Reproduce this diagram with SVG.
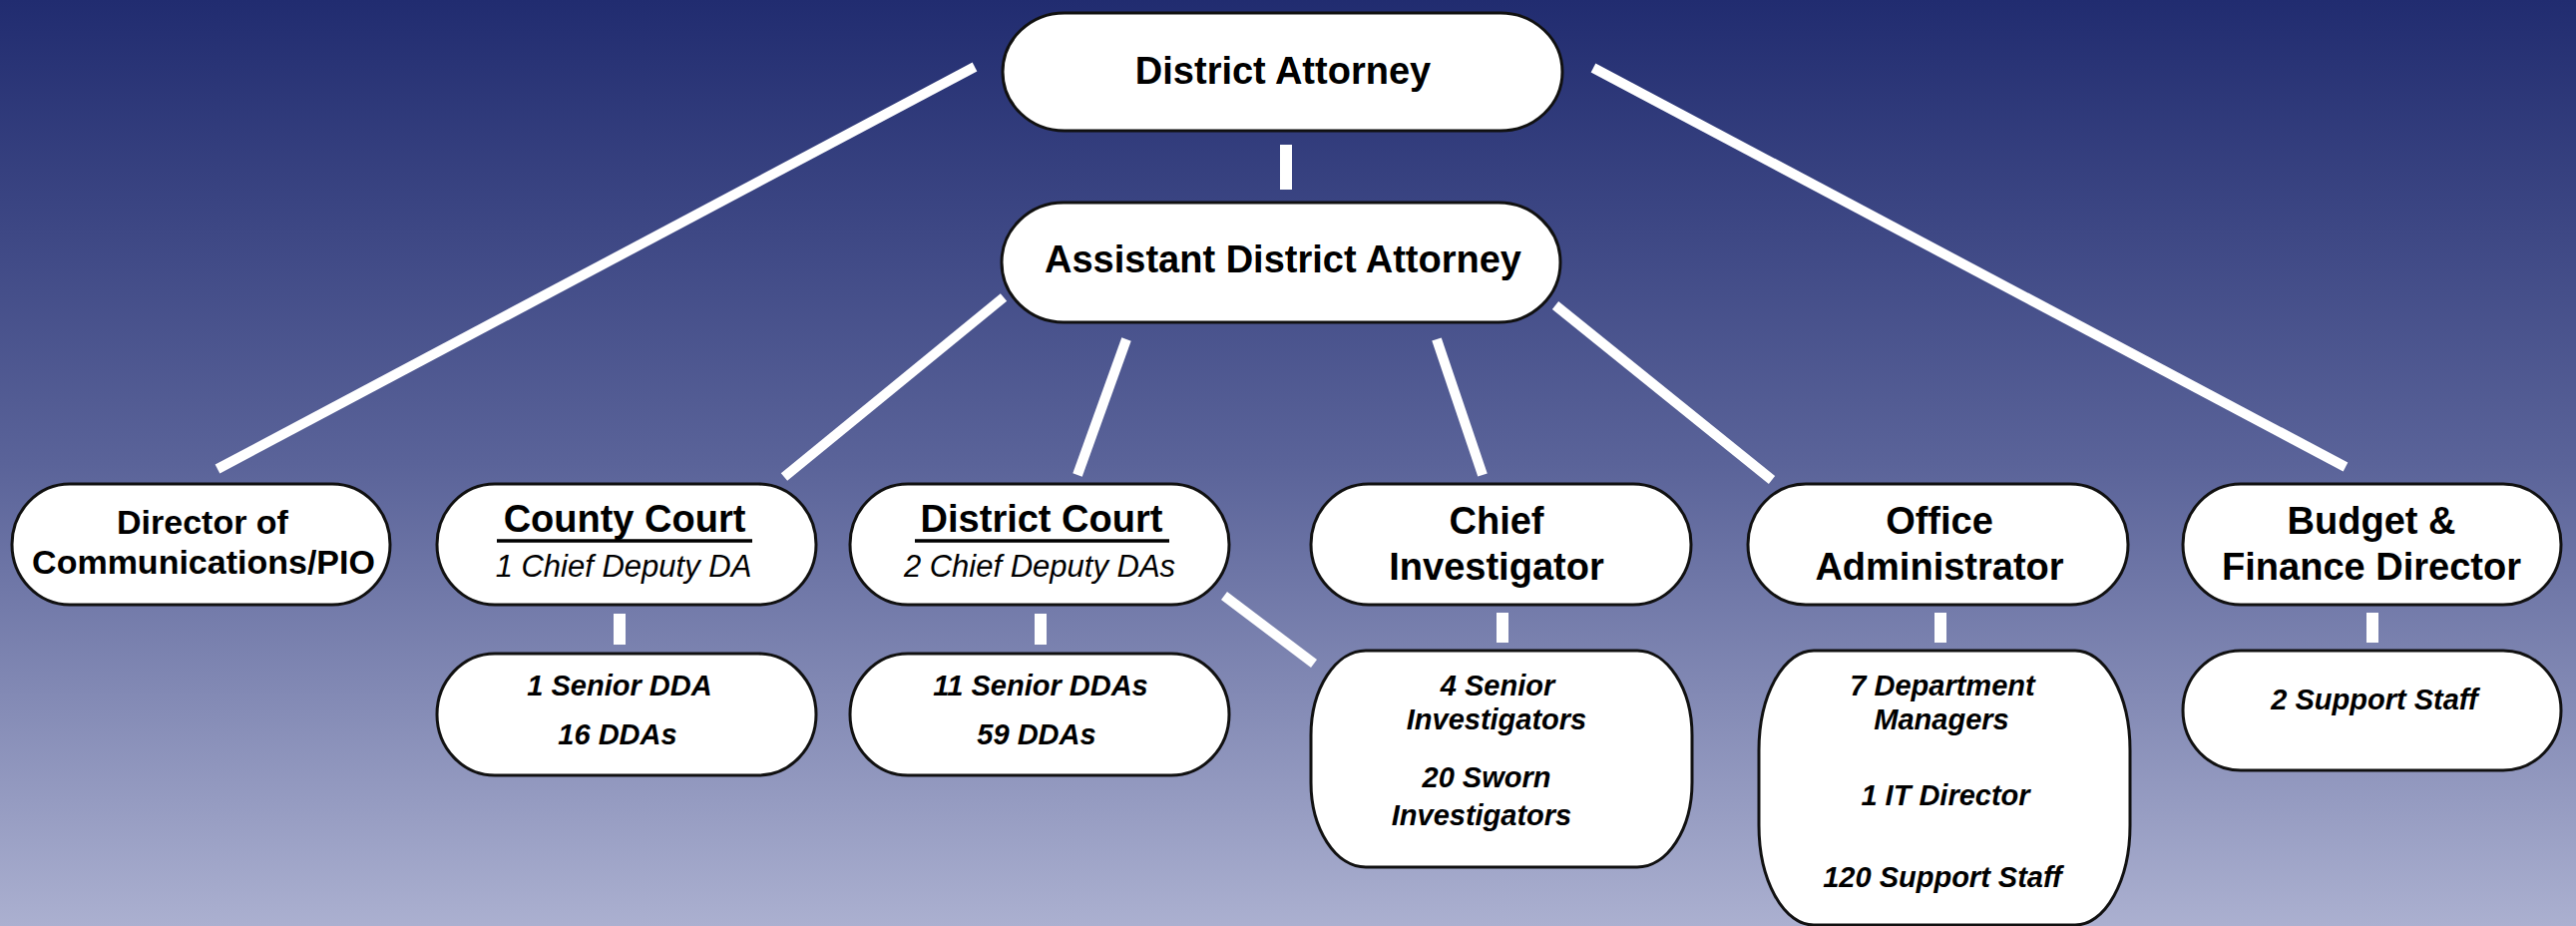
<svg xmlns="http://www.w3.org/2000/svg" width="2582" height="928" viewBox="0 0 2582 928">
  <defs>
    <linearGradient id="bg" x1="0" y1="0" x2="0" y2="1">
      <stop offset="0" stop-color="#212c70"/>
      <stop offset="0.5" stop-color="#5a6399"/>
      <stop offset="1" stop-color="#abb0d0"/>
    </linearGradient>
  </defs>
  <style>
    .box { fill: #ffffff; stroke: #111111; stroke-width: 3; }
    .ln { stroke: #ffffff; stroke-width: 10; stroke-linecap: butt; fill: none; }
    .vl { stroke: #ffffff; stroke-width: 12; stroke-linecap: butt; fill: none; }
    text { font-family: "Liberation Sans", Arial, sans-serif; fill: #000000; text-anchor: middle; }
    .t1 { font-size: 38px; font-weight: bold; }
    .t2 { font-size: 34px; font-weight: bold; }
    .it { font-size: 31px; font-style: italic; }
    .sub { font-size: 29px; font-weight: bold; font-style: italic; }
    .ul { stroke: #000000; stroke-width: 3.5; }
  </style>
  <rect x="0" y="0" width="2582" height="928" fill="url(#bg)"/>

  <g id="connectors">
    <line class="vl" x1="1289" y1="145" x2="1289" y2="190"/>
    <line class="ln" x1="977" y1="67" x2="218" y2="470"/>
    <line class="ln" x1="1597" y1="68" x2="2351" y2="468"/>
    <line class="ln" x1="1006" y1="298" x2="786" y2="478"/>
    <line class="ln" x1="1129" y1="340" x2="1080" y2="476"/>
    <line class="ln" x1="1440" y1="340" x2="1486" y2="476"/>
    <line class="ln" x1="1559" y1="306" x2="1776" y2="481"/>
    <line class="ln" x1="1227" y1="597" x2="1317" y2="665"/>
    <line class="vl" x1="621" y1="615" x2="621" y2="646"/>
    <line class="vl" x1="1043" y1="615" x2="1043" y2="646"/>
    <line class="vl" x1="1506" y1="614" x2="1506" y2="644"/>
    <line class="vl" x1="1945" y1="614" x2="1945" y2="644"/>
    <line class="vl" x1="2378" y1="614" x2="2378" y2="644"/>
  </g>

  <g id="district-attorney">
    <rect class="box" x="1005" y="13" width="561" height="118" rx="62" ry="59"/>
    <text class="t1" x="1286" y="84">District Attorney</text>
  </g>

  <g id="assistant-district-attorney">
    <rect class="box" x="1004" y="203" width="560" height="120" rx="62" ry="60"/>
    <text class="t1" x="1286" y="273">Assistant District Attorney</text>
  </g>

  <g id="director-communications">
    <rect class="box" x="12" y="485" width="379" height="121" rx="58" ry="60.5"/>
    <text class="t2" x="203" y="535">Director of</text>
    <text class="t2" x="204" y="575">Communications/PIO</text>
  </g>

  <g id="county-court">
    <rect class="box" x="438" y="485" width="380" height="121" rx="58" ry="60.5"/>
    <text class="t1" x="626" y="533">County Court</text>
    <line class="ul" x1="498" y1="542" x2="754" y2="542"/>
    <text class="it" x="625" y="578">1 Chief Deputy DA</text>
  </g>

  <g id="district-court">
    <rect class="box" x="852" y="485" width="380" height="121" rx="58" ry="60.5"/>
    <text class="t1" x="1044" y="533">District Court</text>
    <line class="ul" x1="917" y1="542" x2="1172" y2="542"/>
    <text class="it" x="1042" y="578">2 Chief Deputy DAs</text>
  </g>

  <g id="chief-investigator">
    <rect class="box" x="1314" y="485" width="381" height="121" rx="58" ry="60.5"/>
    <text class="t1" x="1500" y="535">Chief</text>
    <text class="t1" x="1500" y="581">Investigator</text>
  </g>

  <g id="office-administrator">
    <rect class="box" x="1752" y="485" width="381" height="121" rx="58" ry="60.5"/>
    <text class="t1" x="1944" y="535">Office</text>
    <text class="t1" x="1944" y="581">Administrator</text>
  </g>

  <g id="budget-finance-director">
    <rect class="box" x="2188" y="485" width="379" height="121" rx="58" ry="60.5"/>
    <text class="t1" x="2377" y="535">Budget &amp;</text>
    <text class="t1" x="2377" y="581">Finance Director</text>
  </g>

  <g id="county-court-staff">
    <rect class="box" x="438" y="655" width="380" height="122" rx="58" ry="61"/>
    <text class="sub" x="621" y="697">1 Senior DDA</text>
    <text class="sub" x="619" y="746">16 DDAs</text>
  </g>

  <g id="district-court-staff">
    <rect class="box" x="852" y="655" width="380" height="122" rx="58" ry="61"/>
    <text class="sub" x="1043" y="697">11 Senior DDAs</text>
    <text class="sub" x="1039" y="746">59 DDAs</text>
  </g>

  <g id="investigators-staff">
    <rect class="box" x="1314" y="652" width="382" height="217" rx="55" ry="85"/>
    <text class="sub" x="1501" y="697">4 Senior</text>
    <text class="sub" x="1500" y="731">Investigators</text>
    <text class="sub" x="1490" y="789">20 Sworn</text>
    <text class="sub" x="1485" y="827">Investigators</text>
  </g>

  <g id="office-staff">
    <rect class="box" x="1763" y="652" width="372" height="275" rx="55" ry="100"/>
    <text class="sub" x="1947" y="697">7 Department</text>
    <text class="sub" x="1946" y="731">Managers</text>
    <text class="sub" x="1950" y="807">1 IT Director</text>
    <text class="sub" x="1947" y="889">120 Support Staff</text>
  </g>

  <g id="budget-staff">
    <rect class="box" x="2188" y="652" width="379" height="120" rx="58" ry="60"/>
    <text class="sub" x="2380" y="711">2 Support Staff</text>
  </g>
</svg>
